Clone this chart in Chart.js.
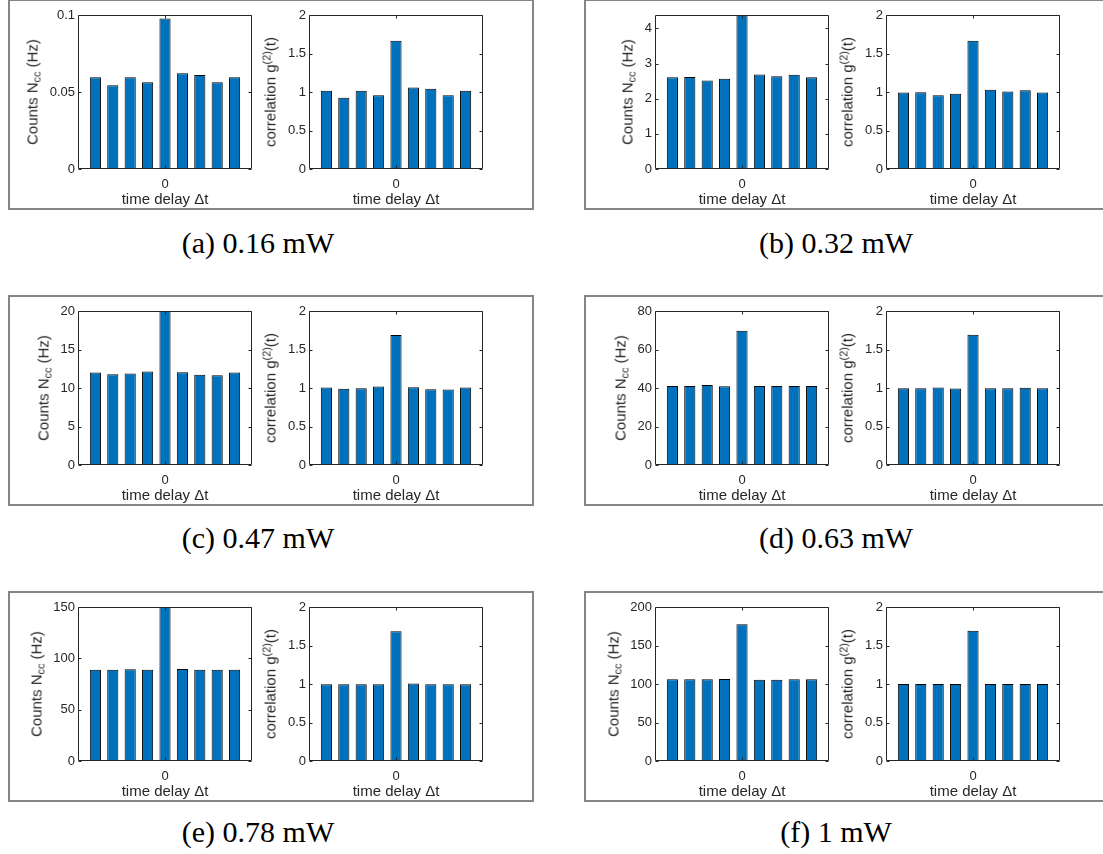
<!DOCTYPE html>
<html><head><meta charset="utf-8">
<script src="https://cdn.jsdelivr.net/npm/chart.js@4.4.0/dist/chart.umd.min.js"></script>
<style>
html,body{margin:0;padding:0;background:#fff;}
body{width:1103px;height:854px;position:relative;overflow:hidden;font-family:"Liberation Sans",Arial,sans-serif;}
.frame{position:absolute;box-sizing:border-box;border:2px solid #858585;}
.cap{position:absolute;font-family:"Liberation Serif","Times New Roman",serif;font-size:30px;color:#000;white-space:nowrap;transform:translate(-50%,-50%);line-height:1;}
canvas{position:absolute;}
.ytitle{position:absolute;white-space:nowrap;font-family:"Liberation Sans",Arial,sans-serif;font-size:15px;line-height:1;color:#262626;transform:translate(-50%,-50%) rotate(-90deg);}
.ytitle .sb{position:relative;top:0.3em;font-size:0.72em;}
.ytitle .sp{position:relative;top:-0.45em;font-size:0.72em;}
</style></head><body>
<script>
// ---- data ----
const delays = [-4, -3, -2, -1, 0, 1, 2, 3, 4];
const xTickLabels = ['0'];

const countsA = [0.0596, 0.0544, 0.0596, 0.0564, 0.0978, 0.0622, 0.0611, 0.0564, 0.0596];
const g2A     = [1.015, 0.924, 1.015, 0.959, 1.667, 1.058, 1.041, 0.959, 1.015];
const countsB = [2.61, 2.62, 2.52, 2.57, 4.38, 2.69, 2.64, 2.68, 2.61];
const g2B     = [0.994, 0.998, 0.959, 0.976, 1.667, 1.028, 1.006, 1.024, 0.994];
const countsC = [12.02, 11.80, 11.89, 12.15, 20.2, 12.06, 11.71, 11.67, 12.02];
const g2C     = [1.006, 0.989, 0.998, 1.020, 1.688, 1.011, 0.985, 0.980, 1.006];
const countsD = [41.1, 41.1, 41.5, 40.95, 69.8, 41.1, 41.1, 41.1, 41.1];
const g2D     = [0.998, 0.998, 1.006, 0.993, 1.692, 0.998, 0.998, 1.002, 0.998];
const countsE = [89.0, 89.0, 89.3, 89.0, 150.2, 89.6, 89.0, 89.0, 89.0];
const g2E     = [0.998, 0.998, 0.998, 0.998, 1.686, 1.006, 0.998, 0.998, 0.998];
const countsF = [106.1, 106.1, 106.1, 106.5, 177.5, 105.6, 105.6, 106.1, 106.1];
const g2F     = [1.000, 1.000, 1.000, 1.000, 1.690, 1.000, 1.000, 1.000, 1.000];

const countTicksA = [0, 0.05, 0.1];
const countTicksB = [0, 1, 2, 3, 4];
const countTicksC = [0, 5, 10, 15, 20];
const countTicksD = [0, 20, 40, 60, 80];
const countTicksE = [0, 50, 100, 150];
const countTicksF = [0, 50, 100, 150, 200];
const g2Ticks = [0, 0.5, 1, 1.5, 2];

const countMaxA = 0.1, countMaxB = 4.38, countMaxC = 20, countMaxD = 80, countMaxE = 150, countMaxF = 200;
const g2Max = 2;

const captions = ['(a) 0.16 mW', '(b) 0.32 mW', '(c) 0.47 mW', '(d) 0.63 mW', '(e) 0.78 mW', '(f) 1 mW'];
const countTitleHTML = 'Counts N<span class="sb">cc</span> (Hz)';
const g2TitleHTML = 'correlation g<span class="sp">(2)</span>(t)';
const xTitle = 'time delay \u0394t';

// ---- layout ----
const panels = [
  {cap: captions[0], counts: countsA, g2: g2A, cTicks: countTicksA, cMax: countMaxA},
  {cap: captions[1], counts: countsB, g2: g2B, cTicks: countTicksB, cMax: countMaxB},
  {cap: captions[2], counts: countsC, g2: g2C, cTicks: countTicksC, cMax: countMaxC},
  {cap: captions[3], counts: countsD, g2: g2D, cTicks: countTicksD, cMax: countMaxD},
  {cap: captions[4], counts: countsE, g2: g2E, cTicks: countTicksE, cMax: countMaxE},
  {cap: captions[5], counts: countsF, g2: g2F, cTicks: countTicksF, cMax: countMaxF}
];
const rowPlotTop = [15, 311, 607];
const plotH = 154;
const colPlotLeft = [[78, 309], [655, 886]];
const plotW = 174;
const frameTop = [-1, 295, 591];
const frameLeft = [8, 584];
const frameW = 526, frameH = 211;
const capCenterX = [258, 836];
const capCenterY = [243, 538, 832];

const PADL = 70, PADR = 8, PADT = 12, XH = 42;
const AXIS = '#262626';
const FONT = '"Liberation Sans", Arial, sans-serif';

const boxPlugin = {
  id: 'matlabBox',
  afterDatasetsDraw(chart) {
    const {ctx, chartArea: a, scales: {x, y}} = chart;
    ctx.save();
    ctx.strokeStyle = AXIS;
    ctx.lineWidth = 1;
    const L = Math.round(a.left) + 0.5, R = Math.round(a.right) - 0.5;
    const T = Math.round(a.top) + 0.5, B = Math.round(a.bottom) - 0.5;
    ctx.beginPath();
    ctx.rect(L, T, R - L, B - T);
    y.ticks.forEach(t => {
      const py = Math.round(y.getPixelForValue(t.value)) + 0.5;
      ctx.moveTo(L, py); ctx.lineTo(L + 3, py);
      ctx.moveTo(R, py); ctx.lineTo(R - 3, py);
    });
    x.ticks.forEach(t => {
      const px = Math.round(x.getPixelForValue(t.value)) + 0.5;
      ctx.moveTo(px, B); ctx.lineTo(px, B - 3);
      ctx.moveTo(px, T); ctx.lineTo(px, T + 3);
    });
    ctx.stroke();
    ctx.restore();
  }
};

const measureCtx = document.createElement('canvas').getContext('2d');
measureCtx.font = '13px ' + FONT;

function fmt(v) { return String(v); }

function makeChart(plotLeft, plotTop, values, ticks, ymax, titleHTML) {
  const cv = document.createElement('canvas');
  const w = plotW + PADL + PADR, h = plotH + PADT + XH;
  cv.width = w; cv.height = h;
  cv.style.left = (plotLeft - PADL) + 'px';
  cv.style.top = (plotTop - PADT) + 'px';
  cv.style.width = w + 'px'; cv.style.height = h + 'px';
  document.body.appendChild(cv);
  new Chart(cv, {
    type: 'bar',
    data: {
      datasets: [{
        data: delays.map((d, i) => ({x: d, y: values[i]})),
        backgroundColor: '#0072BD',
        borderColor: '#000000',
        borderWidth: 1,
        borderSkipped: false,
        barPercentage: 0.64,
        categoryPercentage: 1.0,
        clip: 0
      }]
    },
    options: {
      responsive: false,
      animation: false,
      devicePixelRatio: 1,
      events: [],
      layout: {padding: {left: 0, top: PADT, right: PADR, bottom: 0}},
      plugins: {legend: {display: false}, tooltip: {enabled: false}},
      scales: {
        x: {
          type: 'linear', min: -5, max: 5, offset: false,
          grid: {display: false, offset: false, drawTicks: false},
          border: {display: false},
          afterBuildTicks: s => { s.ticks = xTickLabels.map(l => ({value: Number(l)})); },
          afterFit: s => { s.height = XH; },
          ticks: {color: AXIS, font: {family: FONT, size: 13}, padding: 8, maxRotation: 0,
                  callback: v => String(v)},
          title: {display: true, text: xTitle, color: AXIS, font: {family: FONT, size: 15},
                  padding: {top: 0, bottom: 2}}
        },
        y: {
          min: 0, max: ymax,
          grid: {display: false, drawTicks: false},
          border: {display: false},
          afterBuildTicks: s => { s.ticks = ticks.map(v => ({value: v})); },
          afterFit: s => { s.width = PADL; },
          ticks: {color: AXIS, font: {family: FONT, size: 13}, padding: 3, callback: v => fmt(v)}
        }
      }
    },
    plugins: [boxPlugin]
  });
  const maxW = Math.max(...ticks.map(v => measureCtx.measureText(fmt(v)).width));
  const cx = plotLeft - 3 - maxW - 17.5;
  const cy = plotTop + plotH / 2;
  const t = document.createElement('div');
  t.className = 'ytitle';
  t.innerHTML = titleHTML;
  t.style.left = cx + 'px';
  t.style.top = cy + 'px';
  document.body.appendChild(t);
}

panels.forEach((p, i) => {
  const row = Math.floor(i / 2), col = i % 2;
  const fr = document.createElement('div');
  fr.className = 'frame';
  fr.style.left = frameLeft[col] + 'px';
  fr.style.top = frameTop[row] + 'px';
  fr.style.width = frameW + 'px';
  fr.style.height = frameH + 'px';
  document.body.appendChild(fr);

  makeChart(colPlotLeft[col][0], rowPlotTop[row], p.counts, p.cTicks, p.cMax, countTitleHTML);
  makeChart(colPlotLeft[col][1], rowPlotTop[row], p.g2, g2Ticks, g2Max, g2TitleHTML);

  const c = document.createElement('div');
  c.className = 'cap';
  c.textContent = p.cap;
  c.style.left = capCenterX[col] + 'px';
  c.style.top = capCenterY[row] + 'px';
  document.body.appendChild(c);
});
</script>
</body></html>
